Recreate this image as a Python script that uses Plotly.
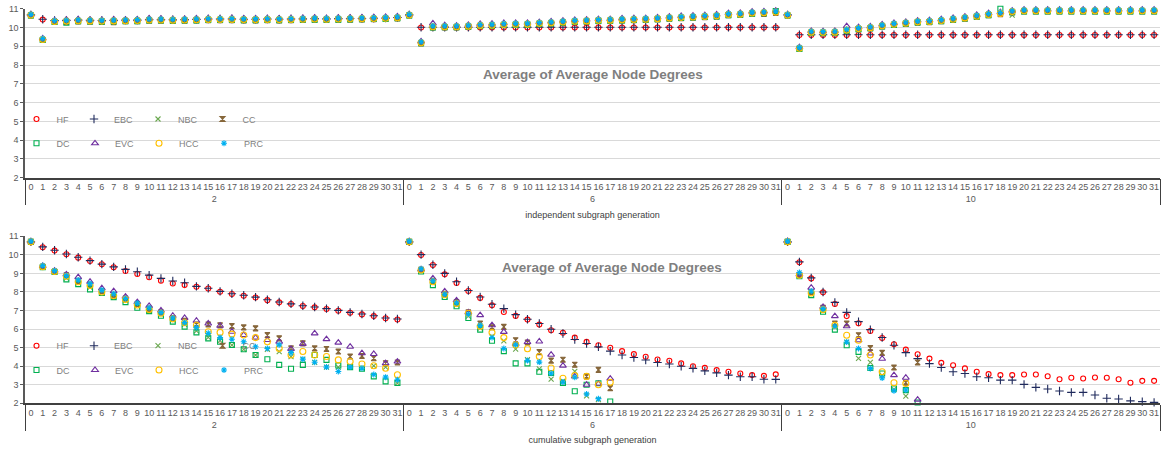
import plotly.graph_objects as go

# ---------------- categories ----------------
group_labels = ["2", "6", "10"]
cat_labels = ["0", "1", "2", "3", "4", "5", "6", "7", "8", "9", "10", "11", "12", "13", "14", "15",
              "16", "17", "18", "19", "20", "21", "22", "23", "24", "25", "26", "27", "28", "29", "30", "31"]
series_names = ["HF", "EBC", "NBC", "CC", "DC", "EVC", "HCC", "PRC"]

# ---------------- top panel: independent subgraph generation ----------------
top_hf = [
    10.66, 10.42, 10.36, 10.37, 10.38, 10.38, 10.36, 10.37,
    10.38, 10.38, 10.41, 10.41, 10.40, 10.41, 10.42, 10.44,
    10.44, 10.44, 10.43, 10.43, 10.44, 10.43, 10.44, 10.45,
    10.46, 10.45, 10.46, 10.47, 10.47, 10.48, 10.49, 10.52,
    10.66, 10.00, 10.00, 10.00, 10.00, 10.00, 10.00, 10.00,
    10.00, 10.00, 10.00, 10.00, 10.00, 10.00, 10.00, 10.00,
    10.00, 10.00, 10.00, 10.00, 10.00, 10.00, 10.00, 10.00,
    10.00, 10.00, 10.00, 10.00, 10.00, 10.00, 10.00, 10.00,
    10.66, 9.60, 9.60, 9.60, 9.60, 9.60, 9.60, 9.60,
    9.60, 9.60, 9.60, 9.60, 9.60, 9.60, 9.60, 9.60,
    9.60, 9.60, 9.60, 9.60, 9.60, 9.60, 9.60, 9.60,
    9.60, 9.60, 9.60, 9.60, 9.60, 9.60, 9.60, 9.60,
]
top_ebc = [
    10.67, 10.44, 10.37, 10.38, 10.39, 10.38, 10.37, 10.38,
    10.39, 10.39, 10.42, 10.42, 10.41, 10.42, 10.43, 10.45,
    10.45, 10.45, 10.44, 10.44, 10.45, 10.44, 10.45, 10.46,
    10.47, 10.46, 10.47, 10.48, 10.48, 10.49, 10.50, 10.53,
    10.67, 10.01, 10.01, 10.01, 10.01, 10.01, 10.01, 10.01,
    10.01, 10.01, 10.01, 10.01, 10.01, 10.01, 10.01, 10.01,
    10.01, 10.01, 10.01, 10.01, 10.01, 10.01, 10.01, 10.01,
    10.01, 10.01, 10.01, 10.01, 10.01, 10.01, 10.01, 10.01,
    10.67, 9.61, 9.61, 9.61, 9.61, 9.61, 9.61, 9.61,
    9.61, 9.61, 9.61, 9.61, 9.61, 9.61, 9.61, 9.61,
    9.61, 9.61, 9.61, 9.61, 9.61, 9.61, 9.61, 9.61,
    9.61, 9.61, 9.61, 9.61, 9.61, 9.61, 9.61, 9.61,
]
top_nbc = [
    10.65, 9.35, 10.31, 10.33, 10.35, 10.34, 10.33, 10.34,
    10.35, 10.36, 10.39, 10.39, 10.38, 10.39, 10.40, 10.42,
    10.42, 10.42, 10.41, 10.41, 10.42, 10.41, 10.42, 10.43,
    10.44, 10.43, 10.44, 10.45, 10.46, 10.47, 10.48, 10.51,
    10.65, 9.18, 10.03, 10.03, 10.03, 10.06, 10.10, 10.11,
    10.15, 10.16, 10.17, 10.21, 10.24, 10.28, 10.32, 10.34,
    10.37, 10.38, 10.40, 10.42, 10.43, 10.46, 10.50, 10.53,
    10.55, 10.58, 10.61, 10.68, 10.70, 10.76, 10.78, 10.81,
    10.65, 8.88, 9.74, 9.73, 9.74, 9.85, 9.93, 9.98,
    10.08, 10.16, 10.22, 10.29, 10.31, 10.36, 10.43, 10.50,
    10.59, 10.68, 10.74, 10.66, 10.88, 10.88, 10.88, 10.88,
    10.88, 10.88, 10.88, 10.88, 10.88, 10.88, 10.88, 10.88,
]
top_cc = [
    10.64, 9.33, 10.29, 10.30, 10.32, 10.31, 10.30, 10.28,
    10.33, 10.33, 10.36, 10.36, 10.35, 10.36, 10.37, 10.39,
    10.39, 10.39, 10.38, 10.38, 10.39, 10.38, 10.39, 10.40,
    10.41, 10.40, 10.41, 10.42, 10.43, 10.44, 10.45, 10.48,
    10.64, 9.15, 10.00, 10.00, 10.00, 10.03, 10.07, 10.08,
    10.12, 10.13, 10.14, 10.18, 10.21, 10.25, 10.29, 10.31,
    10.34, 10.35, 10.37, 10.39, 10.40, 10.43, 10.47, 10.50,
    10.52, 10.55, 10.58, 10.65, 10.67, 10.73, 10.72, 10.78,
    10.64, 8.85, 9.71, 9.70, 9.71, 9.82, 9.90, 9.95,
    10.05, 10.13, 10.19, 10.26, 10.28, 10.33, 10.40, 10.47,
    10.56, 10.65, 10.71, 10.80, 10.85, 10.85, 10.85, 10.85,
    10.85, 10.85, 10.85, 10.85, 10.85, 10.85, 10.85, 10.85,
]
top_dc = [
    10.64, 9.33, 10.29, 10.25, 10.33, 10.32, 10.31, 10.32,
    10.33, 10.34, 10.37, 10.37, 10.36, 10.37, 10.38, 10.40,
    10.40, 10.40, 10.39, 10.39, 10.40, 10.39, 10.40, 10.41,
    10.42, 10.41, 10.42, 10.43, 10.44, 10.45, 10.46, 10.49,
    10.64, 9.16, 10.00, 10.01, 10.01, 10.04, 10.08, 10.09,
    10.13, 10.14, 10.15, 10.19, 10.22, 10.26, 10.30, 10.32,
    10.35, 10.36, 10.38, 10.40, 10.41, 10.44, 10.48, 10.51,
    10.53, 10.56, 10.59, 10.66, 10.68, 10.74, 10.76, 10.88,
    10.64, 8.86, 9.72, 9.71, 9.72, 9.83, 9.91, 9.96,
    10.06, 10.14, 10.20, 10.27, 10.29, 10.34, 10.41, 10.48,
    10.57, 10.66, 11.00, 10.81, 10.86, 10.86, 10.86, 10.86,
    10.86, 10.86, 10.86, 10.86, 10.86, 10.86, 10.86, 10.86,
]
top_evc = [
    10.70, 9.42, 10.38, 10.42, 10.44, 10.41, 10.40, 10.43,
    10.42, 10.43, 10.48, 10.47, 10.45, 10.46, 10.49, 10.50,
    10.49, 10.51, 10.48, 10.49, 10.50, 10.49, 10.50, 10.51,
    10.52, 10.50, 10.52, 10.52, 10.54, 10.55, 10.56, 10.59,
    10.70, 9.26, 10.22, 10.12, 10.10, 10.14, 10.19, 10.20,
    10.24, 10.24, 10.25, 10.29, 10.32, 10.36, 10.40, 10.42,
    10.45, 10.45, 10.48, 10.50, 10.50, 10.54, 10.58, 10.61,
    10.63, 10.66, 10.69, 10.76, 10.78, 10.84, 10.86, 10.89,
    10.70, 8.95, 9.82, 9.80, 9.82, 10.07, 10.02, 10.06,
    10.16, 10.24, 10.30, 10.37, 10.39, 10.44, 10.51, 10.58,
    10.67, 10.76, 10.82, 10.90, 10.95, 10.95, 10.95, 10.95,
    10.95, 10.95, 10.95, 10.95, 10.95, 10.95, 10.95, 10.95,
]
top_hcc = [
    10.66, 9.36, 10.32, 10.34, 10.36, 10.35, 10.34, 10.35,
    10.36, 10.37, 10.40, 10.40, 10.39, 10.40, 10.41, 10.43,
    10.43, 10.43, 10.42, 10.42, 10.43, 10.42, 10.43, 10.44,
    10.45, 10.44, 10.45, 10.46, 10.47, 10.48, 10.49, 10.52,
    10.66, 9.19, 10.04, 10.04, 10.04, 10.07, 10.11, 10.12,
    10.16, 10.17, 10.18, 10.22, 10.25, 10.29, 10.33, 10.35,
    10.38, 10.39, 10.41, 10.43, 10.44, 10.47, 10.51, 10.54,
    10.56, 10.59, 10.62, 10.69, 10.71, 10.77, 10.79, 10.82,
    10.66, 8.89, 9.75, 9.74, 9.75, 9.86, 9.94, 9.99,
    10.09, 10.17, 10.23, 10.30, 10.32, 10.37, 10.44, 10.51,
    10.60, 10.69, 10.75, 10.85, 10.89, 10.89, 10.89, 10.89,
    10.89, 10.89, 10.89, 10.89, 10.89, 10.89, 10.89, 10.89,
]
top_prc = [
    10.70, 9.41, 10.37, 10.39, 10.41, 10.40, 10.39, 10.40,
    10.41, 10.42, 10.45, 10.45, 10.44, 10.45, 10.46, 10.48,
    10.48, 10.48, 10.47, 10.47, 10.48, 10.47, 10.48, 10.49,
    10.50, 10.49, 10.50, 10.51, 10.52, 10.53, 10.54, 10.57,
    10.70, 9.24, 10.09, 10.09, 10.09, 10.12, 10.16, 10.17,
    10.21, 10.22, 10.23, 10.27, 10.30, 10.34, 10.38, 10.40,
    10.43, 10.44, 10.46, 10.48, 10.49, 10.52, 10.56, 10.59,
    10.61, 10.64, 10.67, 10.74, 10.76, 10.82, 10.84, 10.87,
    10.70, 8.94, 9.80, 9.79, 9.80, 9.91, 9.99, 10.04,
    10.14, 10.22, 10.28, 10.35, 10.37, 10.42, 10.49, 10.56,
    10.65, 10.74, 10.80, 10.89, 10.94, 10.94, 10.94, 10.94,
    10.94, 10.94, 10.94, 10.94, 10.94, 10.94, 10.94, 10.94,
]

# ---------------- bottom panel: cumulative subgraph generation ----------------
bot_hf = [
    10.68, 10.41, 10.23, 10.03, 9.85, 9.67, 9.49, 9.33,
    9.13, 8.97, 8.79, 8.61, 8.46, 8.37, 8.28, 8.19,
    8.01, 7.89, 7.80, 7.70, 7.56, 7.44, 7.35, 7.24,
    7.17, 7.08, 6.99, 6.88, 6.79, 6.70, 6.58, 6.52,
    10.68, 9.99, 9.45, 8.95, 8.48, 8.05, 7.68, 7.28,
    6.92, 6.71, 6.51, 6.24, 5.94, 5.80, 5.54, 5.31,
    5.13, 4.99, 4.81, 4.65, 4.51, 4.36, 4.29, 4.15,
    4.00, 3.91, 3.79, 3.70, 3.61, 3.52, 3.48, 3.56,
    10.68, 9.60, 8.73, 7.98, 7.35, 6.70, 6.31, 5.90,
    5.52, 5.18, 4.89, 4.64, 4.41, 4.18, 4.05, 3.88,
    3.70, 3.57, 3.52, 3.52, 3.55, 3.55, 3.46, 3.30,
    3.38, 3.34, 3.39, 3.38, 3.30, 3.11, 3.21, 3.21,
]
bot_ebc = [
    10.70, 10.43, 10.25, 10.05, 9.87, 9.69, 9.50, 9.35,
    9.22, 9.09, 8.91, 8.73, 8.59, 8.50, 8.30, 8.20,
    8.03, 7.90, 7.82, 7.72, 7.58, 7.46, 7.36, 7.26,
    7.19, 7.10, 7.01, 6.90, 6.81, 6.72, 6.60, 6.54,
    10.70, 10.01, 9.47, 9.00, 8.55, 8.08, 7.73, 7.34,
    7.10, 6.78, 6.53, 6.30, 5.99, 5.76, 5.44, 5.22,
    5.04, 4.81, 4.60, 4.47, 4.33, 4.20, 4.12, 4.00,
    3.88, 3.75, 3.64, 3.52, 3.43, 3.43, 3.30, 3.29,
    10.70, 9.62, 8.76, 8.00, 7.44, 6.90, 6.40, 5.97,
    5.55, 5.13, 4.73, 4.41, 4.14, 3.93, 3.70, 3.61,
    3.43, 3.38, 3.25, 3.25, 3.02, 2.86, 2.77, 2.66,
    2.59, 2.59, 2.45, 2.27, 2.23, 2.13, 2.09, 2.05,
]
bot_nbc = [
    10.70, 9.36, 9.10, 8.75, 8.50, 8.25, 8.00, 7.75,
    7.55, 7.25, 7.00, 6.80, 6.50, 6.25, 5.90, 5.55,
    5.38, 5.14, 4.91, 4.60, 4.91, 4.79, 4.52, 4.38,
    4.21, 3.95, 3.95, 3.95, 3.89, 4.02, 3.95, 3.09,
    10.70, 9.18, 8.50, 7.78, 7.30, 6.70, 6.05, 5.60,
    5.37, 4.92, 4.35, 3.85, 3.30, 3.20, 3.72, 2.40,
    2.20, None, None, None, None, None, None, None,
    None, None, None, None, None, None, None, None,
    10.70, 8.90, 7.90, 7.00, 6.10, 5.30, 4.42, 4.20,
    3.50, 2.75, 2.39, None, None, None, None, None,
    None, None, None, None, None, None, None, None,
    None, None, None, None, None, None, None, None,
]
bot_cc = [
    10.70, 9.36, 9.10, 8.90, 8.60, 8.40, 8.05, 7.85,
    7.65, 7.35, 7.10, 6.90, 6.60, 6.45, 6.25, 6.25,
    6.20, 6.16, 6.09, 6.04, 5.68, 5.50, 4.96, 5.23,
    4.96, 4.93, 4.79, 4.52, 4.55, 4.43, 4.16, 4.20,
    10.70, 9.20, 8.60, 7.90, 7.45, 6.90, 6.30, 6.10,
    6.12, 5.40, 5.28, 4.76, 4.30, 4.35, 4.08, 3.45,
    3.80, 2.82, None, None, None, None, None, None,
    None, None, None, None, None, None, None, None,
    10.70, 8.92, 8.00, 7.15, 6.30, 6.30, 5.67, 4.98,
    4.72, 3.93, 3.11, 4.20, None, None, None, None,
    None, None, None, None, None, None, None, None,
    None, None, None, None, None, None, None, None,
]
bot_dc = [
    10.70, 9.33, 9.08, 8.68, 8.42, 8.14, 7.95, 7.72,
    7.45, 7.15, 6.97, 6.72, 6.40, 6.13, 5.82, 5.50,
    5.32, 5.14, 4.91, 4.60, 4.37, 4.07, 3.86, 4.07,
    4.60, 4.34, 4.04, 3.95, 3.86, 3.45, 3.18, 3.09,
    10.70, 9.10, 8.37, 7.73, 7.23, 6.60, 5.97, 5.37,
    4.81, 4.15, 4.15, 3.70, 3.63, 3.10, 2.65, 3.00,
    3.08, 2.10, None, None, None, None, None, None,
    None, None, None, None, None, None, None, None,
    10.70, 8.85, 7.83, 6.93, 5.97, 5.13, 4.77, 3.90,
    3.61, 2.80, 2.71, 2.04, None, None, None, None,
    None, None, None, None, None, None, None, None,
    None, None, None, None, None, None, None, None,
]
bot_evc = [
    10.72, 9.40, 9.15, 8.95, 8.80, 8.55, 8.20, 8.05,
    7.75, 7.45, 7.25, 7.00, 6.72, 6.60, 6.45, 6.30,
    6.18, 5.86, 5.68, 5.54, 5.41, 5.32, 4.93, 5.20,
    5.77, 5.46, 5.27, 5.05, 4.70, 4.66, 4.16, 4.25,
    10.72, 9.22, 8.73, 8.03, 7.55, 6.90, 6.75, 6.21,
    5.85, 5.20, 5.30, 5.33, 4.62, 4.03, 3.45, 3.00,
    3.05, 3.33, None, None, None, None, None, None,
    None, None, None, None, None, None, None, None,
    10.74, 8.95, 8.23, 7.20, 6.70, 6.15, 5.40, 4.68,
    4.40, 3.52, 3.38, 2.20, None, None, None, None,
    None, None, None, None, None, None, None, None,
    None, None, None, None, None, None, None, None,
]
bot_hcc = [
    10.70, 9.36, 9.10, 8.85, 8.55, 8.35, 8.00, 7.80,
    7.60, 7.30, 7.05, 6.85, 6.55, 6.35, 6.21, 5.86,
    5.82, 5.73, 5.68, 5.54, 5.32, 4.96, 4.60, 4.79,
    4.60, 4.52, 4.34, 4.25, 4.12, 4.02, 3.89, 3.54,
    10.70, 9.18, 8.55, 7.85, 7.38, 6.85, 6.15, 5.81,
    5.54, 5.15, 4.94, 4.52, 3.90, 3.35, 3.50, 3.45,
    3.00, 3.13, None, None, None, None, None, None,
    None, None, None, None, None, None, None, None,
    10.70, 8.90, 7.95, 7.05, 6.20, 5.67, 5.40, 4.60,
    3.70, 3.11, 3.07, None, None, None, None, None,
    None, None, None, None, None, None, None, None,
    None, None, None, None, None, None, None, None,
]
bot_prc = [
    10.74, 9.42, 9.15, 8.88, 8.65, 8.45, 8.10, 7.90,
    7.65, 7.40, 7.15, 6.90, 6.60, 6.35, 6.09, 5.77,
    5.54, 5.45, 5.32, 5.05, 4.95, 5.15, 4.73, 4.38,
    4.21, 3.95, 3.71, 3.95, 3.89, 3.55, 3.41, 3.27,
    10.74, 9.25, 8.60, 7.88, 7.42, 6.80, 6.20, 5.55,
    4.95, 5.15, 4.30, 4.22, 3.62, 3.15, 3.40, 2.50,
    2.25, None, None, None, None, None, None, None,
    None, None, None, None, None, None, None, None,
    10.74, 9.05, 8.05, 7.10, 6.15, 5.30, 4.95, 3.88,
    3.36, 2.68, 2.72, None, None, None, None, None,
    None, None, None, None, None, None, None, None,
    None, None, None, None, None, None, None, None,
]

top_values = [top_hf, top_ebc, top_nbc, top_cc, top_dc, top_evc, top_hcc, top_prc]
bot_values = [bot_hf, bot_ebc, bot_nbc, bot_cc, bot_dc, bot_evc, bot_hcc, bot_prc]
for arr in top_values + bot_values:
    assert len(arr) == 96, len(arr)

# ---------------- styling ----------------
marker_styles = {
    "HF":  dict(symbol="circle-open", size=5, color="#ff0000"),
    "EBC": dict(symbol="cross-thin-open", size=6, color="#1f2a5c"),
    "NBC": dict(symbol="x-thin-open", size=5, color="#6aa84f"),
    "CC":  dict(symbol="hourglass", size=5, color="#86663a"),
    "DC":  dict(symbol="square-open", size=5, color="#00b050"),
    "EVC": dict(symbol="triangle-up-open", size=6, color="#7030a0"),
    "HCC": dict(symbol="circle-open", size=6, color="#ffc000"),
    "PRC": dict(symbol="asterisk-open", size=5, color="#00b0f0"),
}

x_outer = [g for g in group_labels for _ in cat_labels]
x_inner = [c for _ in group_labels for c in cat_labels]
xcat = [x_outer, x_inner]

FONT = "Liberation Sans, Arial, Helvetica, sans-serif"

fig = go.Figure()
for panel, values_list, xa, ya, legs in [
    ("top", top_values, "x", "y", ("legend", "legend2")),
    ("bot", bot_values, "x2", "y2", ("legend3", "legend4")),
]:
    for i, (name, vals) in enumerate(zip(series_names, values_list)):
        st = marker_styles[name]
        fig.add_trace(go.Scatter(
            x=xcat, y=vals, mode="markers", name=name,
            xaxis=xa, yaxis=ya,
            legend=legs[0] if i < 4 else legs[1],
            marker=dict(symbol=st["symbol"], size=st["size"], color=st["color"],
                        line=dict(width=1.1, color=st["color"])),
            cliponaxis=False,
        ))

W, H = 1164, 450
ML, MR = 25, 4
PW = W - ML - MR


def px_y(p):
    return 1 - p / H


def px_x(p):
    return (p - ML) / PW


xaxis_common = dict(
    type="multicategory", range=[-0.5, 95.5], showgrid=False, zeroline=False,
    showline=True, linecolor="#404040", linewidth=1.5, ticks="",
    tickfont=dict(size=9, color="#595959", family=FONT), tickangle=0,
    showdividers=True, dividercolor="#404040", dividerwidth=1,
    tickmode="linear", tick0=0, dtick=1, fixedrange=True, automargin=False,
)
yaxis_common = dict(
    range=[2, 11], tick0=0, dtick=1, showgrid=True, gridcolor="#d9d9d9", gridwidth=1.3,
    zeroline=False, showline=True, linecolor="#595959", linewidth=1.5,
    ticks="outside", ticklen=3, tickcolor="#595959", tickwidth=1,
    tickfont=dict(size=9, color="#595959", family=FONT), fixedrange=True, automargin=False,
)

legend_common = dict(
    orientation="h", xanchor="left", yanchor="middle", bgcolor="rgba(0,0,0,0)",
    font=dict(size=9, color="#808080", family=FONT), itemwidth=30,
    itemclick=False, itemdoubleclick=False,
)

fig.update_layout(
    width=W, height=H,
    margin=dict(l=ML, r=MR, t=0, b=0, autoexpand=False),
    paper_bgcolor="white", plot_bgcolor="white",
    font=dict(family=FONT, size=9, color="#595959"),
    xaxis=dict(xaxis_common, anchor="y",
               title=dict(text="independent subgraph generation", standoff=8,
                          font=dict(size=9, color="#404040"))),
    xaxis2=dict(xaxis_common, anchor="y2",
                title=dict(text="cumulative subgraph generation", standoff=8,
                           font=dict(size=9, color="#404040"))),
    yaxis=dict(yaxis_common, anchor="x", domain=[px_y(177.7), px_y(8.7)]),
    yaxis2=dict(yaxis_common, anchor="x2", domain=[px_y(403.3), px_y(236.3)]),
    legend=dict(legend_common, x=px_x(16.5), y=px_y(119)),
    legend2=dict(legend_common, x=px_x(16.5), y=px_y(143.3)),
    legend3=dict(legend_common, x=px_x(16.5), y=px_y(345.7)),
    legend4=dict(legend_common, x=px_x(16.5), y=px_y(370)),
    showlegend=True,
    annotations=[
        dict(text="<b>Average of Average Node Degrees</b>", xref="paper", yref="paper",
             x=px_x(593), y=px_y(75), xanchor="center", yanchor="middle", showarrow=False,
             font=dict(size=13.5, color="#7f7f7f", family=FONT)),
        dict(text="<b>Average of Average Node Degrees</b>", xref="paper", yref="paper",
             x=px_x(612), y=px_y(267), xanchor="center", yanchor="middle", showarrow=False,
             font=dict(size=13.5, color="#7f7f7f", family=FONT)),
    ],
)

fig.write_html("out.html", config={"displayModeBar": False})
